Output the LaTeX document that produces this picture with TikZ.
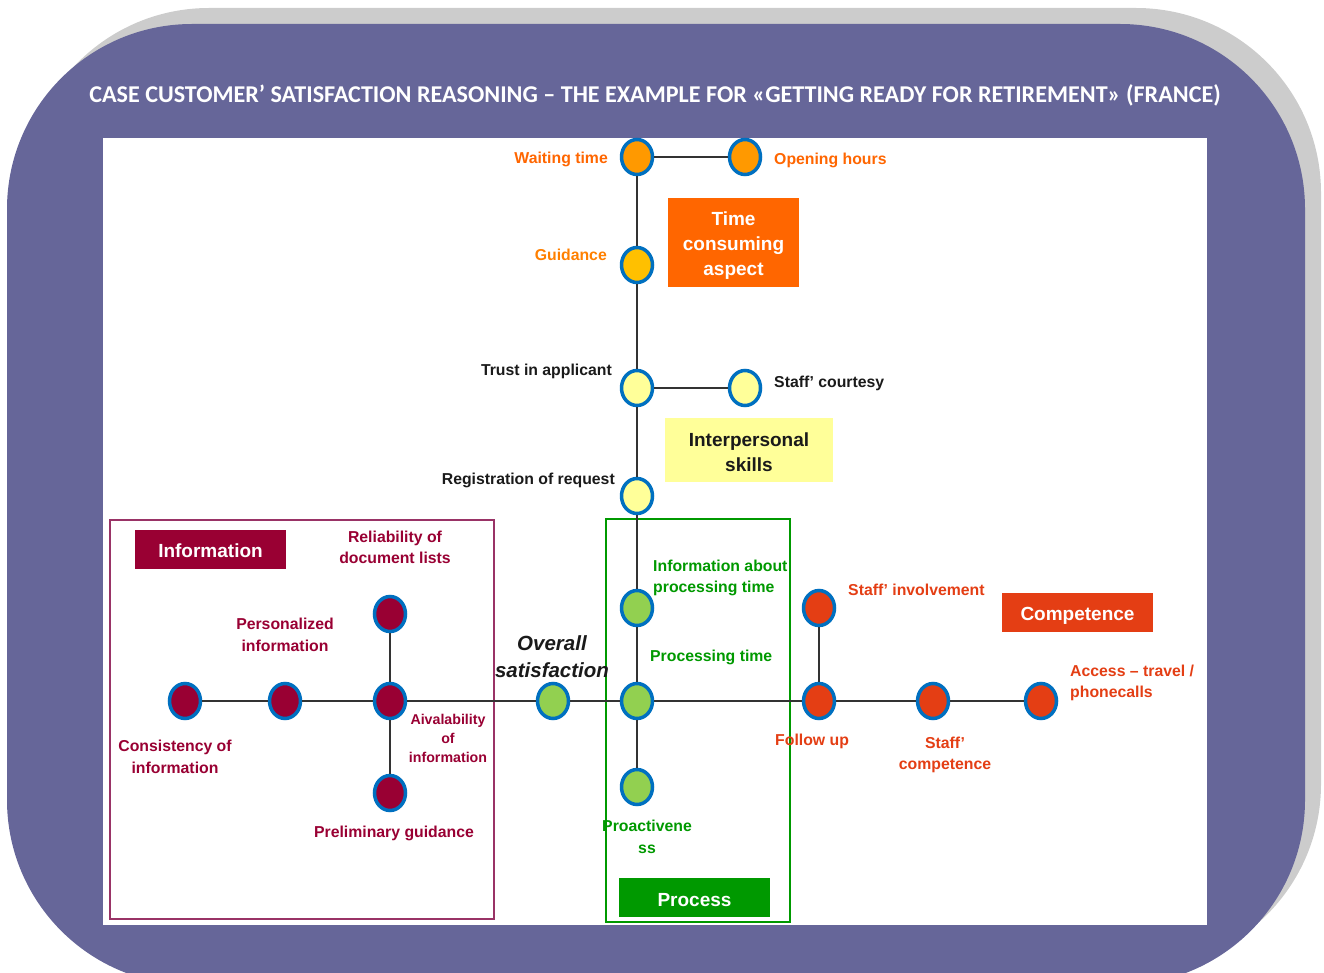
\documentclass[tikz,border=0pt]{standalone}
\usepackage{fontspec}
\setmainfont{Liberation Sans}
\newfontfamily\titlefont{Carlito}
\usetikzlibrary{shapes.geometric}
\definecolor{bgpurple}{HTML}{666699}
\definecolor{shadowgrey}{HTML}{CCCCCC}
\definecolor{dotblue}{HTML}{0070C0}
\definecolor{dorange}{HTML}{FF9900}
\definecolor{dgold}{HTML}{FFC000}
\definecolor{dyellow}{HTML}{FFFF99}
\definecolor{dgreen}{HTML}{92D050}
\definecolor{dmaroon}{HTML}{990033}
\definecolor{dred}{HTML}{E43E14}
\definecolor{torange}{HTML}{FF6600}
\definecolor{tguid}{HTML}{FF8000}
\definecolor{tdark}{HTML}{1A1A1A}
\definecolor{tgreen}{HTML}{009900}
\definecolor{frmaroon}{HTML}{993366}
\definecolor{conngrey}{HTML}{333333}
\newcommand\topgap{\rule{0pt}{19pt}}
\tikzset{
  dot/.style={ellipse, draw=dotblue, line width=3.5pt, minimum width=31pt, minimum height=35pt, inner sep=0pt},
  conn/.style={draw=conngrey, line width=1.5pt},
  lab/.style={font=\fontsize{15.8}{21.5}\selectfont\bfseries, inner sep=0pt, align=center},
  slab/.style={font=\fontsize{14.2}{19}\selectfont\bfseries, inner sep=0pt, align=center},
  catbox/.style={font=\fontsize{19}{25}\selectfont\bfseries, inner sep=0pt, align=center, text=white},
  frame/.style={line width=2.5pt}
}
\begin{document}
\begin{tikzpicture}[x=1pt,y=-1pt]
\useasboundingbox (0,0) rectangle (1324,973);
% background
\fill[shadowgrey, rounded corners=185pt] (24,8) rectangle (1321,969);
\fill[bgpurple, rounded corners=185pt] (7,24) rectangle (1305,985);
\fill[white] (103,138) rectangle (1207,925);
% title
\node[text=white, font=\titlefont\bfseries\fontsize{24.1}{28}\selectfont, inner sep=0pt] (title) at (655,95)
  {CASE CUSTOMER’ SATISFACTION REASONING – THE EXAMPLE FOR «GETTING READY FOR RETIREMENT» (FRANCE)};
% frames
\draw[frame, frmaroon] (110,520) rectangle (494,919);
\draw[frame, tgreen] (606,519) rectangle (790,922);
% category boxes
\node[catbox, fill=torange, minimum width=131pt, minimum height=89pt] (tca) at (733.5,242.5) {\topgap Time\\consuming\\aspect};
\node[catbox, fill=dyellow, text=tdark, minimum width=168pt, minimum height=64pt] (ips) at (749,450) {\topgap Interpersonal\\skills};
\node[catbox, fill=dmaroon, minimum width=151pt, minimum height=39pt] (infobox) at (210.5,549.5) {\rule{0pt}{16pt}Information};
\node[catbox, fill=dred, minimum width=151pt, minimum height=39pt] (compbox) at (1077.5,612.5) {\topgap Competence};
\node[catbox, fill=tgreen, minimum width=151pt, minimum height=39pt] (procbox) at (694.5,897.5) {\topgap Process};
% dots
\node[dot, fill=dorange] (wait) at (637,157) {};
\node[dot, fill=dorange] (open) at (745,157) {};
\node[dot, fill=dgold] (guid) at (637,265) {};
\node[dot, fill=dyellow] (trust) at (637,388) {};
\node[dot, fill=dyellow] (court) at (745,388) {};
\node[dot, fill=dyellow] (reg) at (637,496) {};
\node[dot, fill=dgreen] (ipt) at (637,608) {};
\node[dot, fill=dgreen] (pt) at (637,701) {};
\node[dot, fill=dgreen] (pro) at (637,787) {};
\node[dot, fill=dgreen] (overall) at (553,701) {};
\node[dot, fill=dmaroon] (aival) at (390,701) {};
\node[dot, fill=dmaroon] (pers) at (285,701) {};
\node[dot, fill=dmaroon] (cons) at (185,701) {};
\node[dot, fill=dmaroon] (reli) at (390,614) {};
\node[dot, fill=dmaroon] (prel) at (390,793) {};
\node[dot, fill=dred] (follow) at (819,701) {};
\node[dot, fill=dred] (sinv) at (819,608) {};
\node[dot, fill=dred] (scomp) at (933,701) {};
\node[dot, fill=dred] (access) at (1041,701) {};
% connectors
\draw[conn] (wait) -- (open);
\draw[conn] (wait) -- (guid);
\draw[conn] (guid) -- (trust);
\draw[conn] (trust) -- (court);
\draw[conn] (trust) -- (reg);
\draw[conn] (reg) -- (ipt);
\draw[conn] (ipt) -- (pt);
\draw[conn] (pt) -- (pro);
\draw[conn] (cons) -- (pers);
\draw[conn] (pers) -- (aival);
\draw[conn] (aival) -- (overall);
\draw[conn] (overall) -- (pt);
\draw[conn] (pt) -- (follow);
\draw[conn] (follow) -- (scomp);
\draw[conn] (scomp) -- (access);
\draw[conn] (reli) -- (aival);
\draw[conn] (aival) -- (prel);
\draw[conn] (sinv) -- (follow);
% labels
\node[lab, text=torange, anchor=base east] (lwait) at (608,164) {Waiting time};
\node[lab, text=torange, anchor=base west] (lopen) at (774,165) {Opening hours};
\node[lab, text=tguid, anchor=base east] (lguid) at (607,261) {Guidance};
\node[lab, text=tdark, anchor=base east] (ltrust) at (612,375) {Trust in applicant};
\node[lab, text=tdark, anchor=base west] (lcourt) at (774,387) {Staff’ courtesy};
\node[lab, text=tdark, anchor=base east] (lreg) at (615,484) {Registration of request};
\node[lab, text=dmaroon] (lreli) at (395,547.5) {Reliability of\\document lists};
\node[lab, text=dmaroon] (lpers) at (285,635) {Personalized\\information};
\node[lab, text=dmaroon] (lcons) at (175,757) {Consistency of\\information};
\node[slab, text=dmaroon] (laival) at (448,738) {Aivalability\\of\\information};
\node[lab, text=dmaroon, anchor=base] (lprel) at (394,837) {Preliminary guidance};
\node[font=\fontsize{20.5}{27}\selectfont\bfseries\itshape, inner sep=0pt, align=center, text=tdark] (loverall) at (552,656.5) {Overall\\satisfaction};
\node[lab, text=tgreen, align=left, anchor=west] (lipt) at (653,578) {Information about\\processing time};
\node[lab, text=tgreen, anchor=base west] (lpt) at (650,661) {Processing time};
\node[lab, text=tgreen] (lpro) at (647,837) {Proactivene\\ss};
\node[lab, text=dred, anchor=base west] (lsinv) at (848,595) {Staff’ involvement};
\node[lab, text=dred, anchor=base west] (lfollow) at (775,745) {Follow up};
\node[lab, text=dred] (lscomp) at (945,755) {Staff’\\competence};
\node[lab, text=dred, align=left, anchor=west] (laccess) at (1070,683) {Access – travel /\\phonecalls};
\end{tikzpicture}
\end{document}
